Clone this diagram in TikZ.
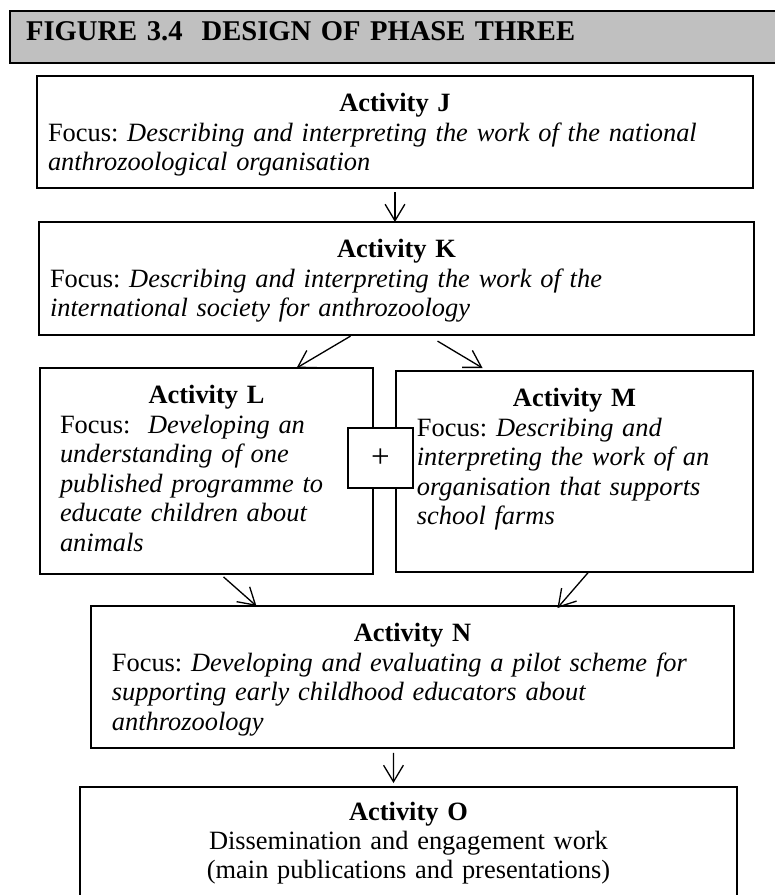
\documentclass[tikz,border=0pt]{standalone}
\usepackage{fontspec}
\setmainfont{Liberation Serif}
\usetikzlibrary{arrows.meta}
\definecolor{headgray}{RGB}{192,192,192}
\frenchspacing

\begin{document}
\begin{tikzpicture}[x=0.4545pt,y=-0.4545pt,
  every node/.style={inner sep=0,outer sep=0,font=\fontsize{12pt}{13.4pt}\selectfont},
  actbox/.style={draw,line width=0.6pt,anchor=north west,align=left,text height=16.2pt},
  arr/.style={-{Straight Barb[length=7.5pt,width=9pt]},line width=0.6pt}]
  \useasboundingbox (0,0) rectangle (775,895);
  %% Heading bar.
  \node[draw,fill=headgray,line width=1pt,anchor=north west,inner xsep=7.3pt,text width=340pt,
    text height=13.2pt,text depth=10.4pt,font=\fontsize{13pt}{16pt}\selectfont\bfseries] (HD) at (10,11)
    {FIGURE 3.4\ \ DESIGN OF PHASE THREE};
  %% Upper boxes.
  \node[actbox,inner xsep=5pt,text width=315.4pt,text depth=34.7pt] (AJ) at (37,76)
    {{\centering\textbf{Activity J}\par}Focus: \textit{Describing and interpreting the work of the national}\\
     \textit{anthrozoological organisation}};
  \node[actbox,inner xsep=5pt,text width=315pt,text depth=35.2pt] (AK) at (39,222)
    {{\centering\textbf{Activity K}\par}Focus: \textit{Describing and interpreting the work of the}\\
     \textit{international society for anthrozoology}};
  %% Side by side boxes.
  \node[actbox,inner xsep=9.1pt,text width=133.2pt,text depth=77.4pt] (AL) at (40,368)
    {{\centering\textbf{Activity L}\par}Focus:\ \ \textit{Developing an}\\
     \textit{understanding of one}\\ \textit{published programme to}\\
     \textit{educate children about}\\ \textit{animals}};
  \node[actbox,inner xsep=9.5pt,text width=143.3pt,text depth=75.2pt] (AM) at (396,371)
    {{\centering\textbf{Activity M}\par}Focus: \textit{Describing and}\\
     \textit{interpreting the work of an}\\ \textit{organisation that supports}\\
     \textit{school farms}};
  \node[draw,fill=white,line width=0.6pt,anchor=north west,minimum width=29.5pt,minimum height=27.3pt,
    font=\fontsize{15pt}{18pt}\selectfont] (PL) at (348,428) {\raisebox{-1.5pt}{+}};
  %% Lower boxes.
  \node[actbox,inner xsep=9.5pt,text width=273.2pt,text depth=48.3pt] (AN) at (91,606)
    {{\centering\textbf{Activity N}\par}Focus: \textit{Developing and evaluating a pilot scheme for}\\
     \textit{supporting early childhood educators about}\\ \textit{anthrozoology}};
  \node[actbox,align=center,text width=298.6pt,text height=15pt,text depth=38.6pt] (AO) at (80,787)
    {\textbf{Activity O}\\ Dissemination and engagement work\\ (main publications and presentations)};

  \draw[arr] ([shift={(0,4)}]AJ.south) -- (AJ.south |- AK.north);
  \draw[arr] ([shift={(-46,1)}]AK.south) -- ([shift={(90,0)}]AL.north);
  \draw[arr] ([shift={(41,6)}]AK.south) -- ([shift={(-92,-3)}]AM.north);
  \draw[arr] ([shift={(17,3)}]AL.south) -- ([shift={(-156,0)}]AN.north);
  \draw[arr] ([shift={(14,0)}]AM.south) -- ([shift={(145,2)}]AN.north);
  \draw[arr] ([shift={(-19,5)}]AN.south) -- ([shift={(-15,-4)}]AO.north);
\end{tikzpicture}
\end{document}
